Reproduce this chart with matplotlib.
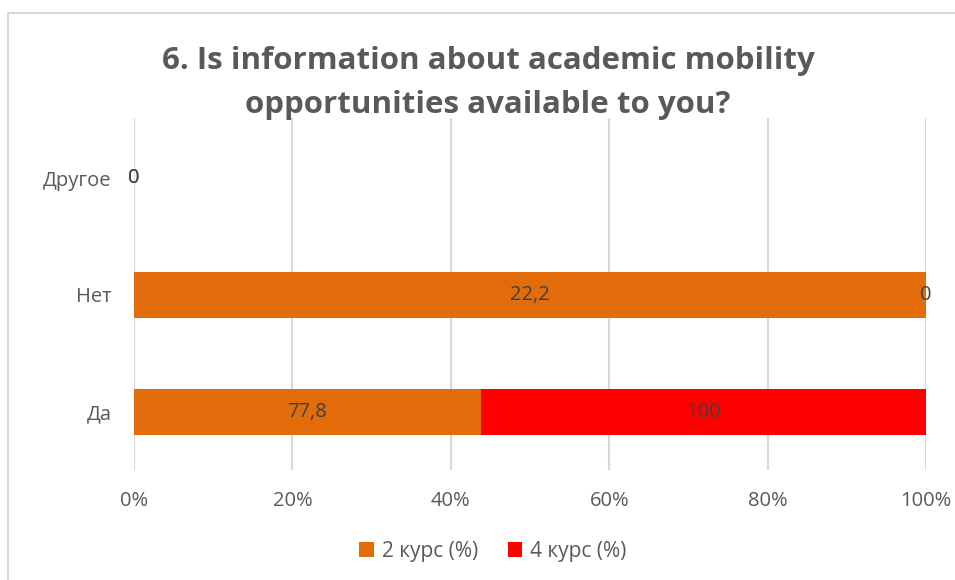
import matplotlib.pyplot as plt
from matplotlib.patches import Rectangle
import numpy as np

categories = ["Да", "Нет", "Другое"]
course2 = [77.8, 22.2, 0]
course4 = [100, 0, 0]
series_names = ["2 курс (%)", "4 курс (%)"]
x_ticks = [0, 20, 40, 60, 80, 100]

plt.rcParams['font.family'] = ['Open Sans', 'DejaVu Sans']

fig = plt.figure(figsize=(9.55, 5.8), dpi=100)
ax = fig.add_axes([134 / 955, 1 - 470 / 580, (926 - 134) / 955, (470 - 118) / 580])

# 100% stacked: each row scaled to its own total
vals = np.array([course2, course4], dtype=float)
totals = vals.sum(axis=0)
shares = np.divide(vals, totals, out=np.zeros_like(vals), where=totals > 0) * 100

y = np.arange(len(categories))
colors = ["#E36C0A", "#FF0000"]
left = np.zeros(len(categories))
for i in range(2):
    ax.barh(y, shares[i], left=left, height=0.4, color=colors[i],
            label=series_names[i], zorder=2)
    for k in range(len(categories)):
        txt = f"{vals[i][k]:g}".replace(".", ",")
        ax.text(left[k] + shares[i][k] / 2, y[k], txt, ha="center", va="center",
                fontsize=14.5, color="#404040", zorder=3)
    left += shares[i]

ax.set_xlim(0, 100)
ax.set_ylim(-0.496, 2.513)
ax.set_xticks(x_ticks)
ax.set_xticklabels([f"{t}%" for t in x_ticks])
ax.set_yticks(y)
ax.set_yticklabels(categories)
ax.tick_params(axis="both", length=0, labelsize=14.5, colors="#595959")
ax.tick_params(axis="x", pad=15)
ax.tick_params(axis="y", pad=16)
ax.grid(axis="x", color="#d9d9d9", linewidth=1.5, zorder=0)
for s in ax.spines.values():
    s.set_visible(False)

fig.text(488 / 955, 1 - 83 / 580,
         "6. Is information about academic mobility\nopportunities available to you?",
         ha="center", va="center", fontsize=22.5, fontweight="bold",
         color="#595959", linespacing=1.6)

ax.legend(loc="center", bbox_to_anchor=(493 / 955, 1 - 551 / 580),
          bbox_transform=fig.transFigure, ncol=2, frameon=False,
          fontsize=15, labelcolor="#595959", handlelength=0.7, handleheight=0.7,
          handletextpad=0.4, columnspacing=1.4)

# chart frame
fig.patches.append(Rectangle((8 / 955, -0.1), 1.1, 1 - 13 / 580 + 0.1,
                             transform=fig.transFigure, fill=False,
                             edgecolor="#d9d9d9", linewidth=1.5))

fig.savefig("out.png", dpi=100)
